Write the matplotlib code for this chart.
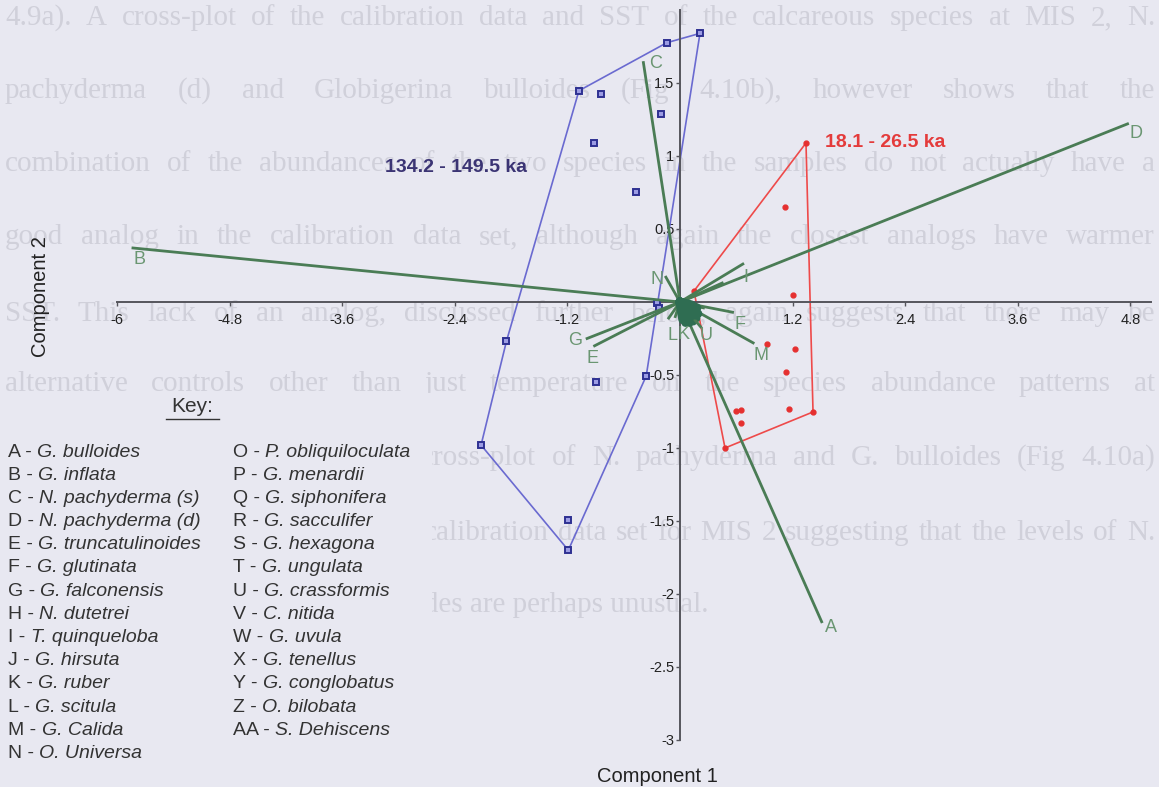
import matplotlib.pyplot as plt
from matplotlib.lines import Line2D
from matplotlib.patches import Rectangle

plt.rcParams['font.family'] = ['Liberation Sans', 'DejaVu Sans']

W, H = 1159, 787
BG = '#e8e8f1'

# Page text sitting behind the figure
page_lines = [
    '4.9a).  A cross-plot of the calibration data and SST of the calcareous species at MIS 2, N.',
    'pachyderma (d) and Globigerina bulloides (Fig 4.10b), however shows that the',
    'combination of the abundances of the two species in the samples do not actually have a',
    'good analog in the calibration data set, although again the closest analogs have warmer',
    'SST.  This lack of an analog, discussed further below, again suggests that there may be',
    'alternative controls other than just temperature on the species abundance patterns at',
    'MD95-2039 during MIS 2.  The cross-plot of N. pachyderma and G. bulloides (Fig 4.10a)',
    'also shows no good analogs in the calibration data set for MIS 2 suggesting that the levels of N.',
    'pachyderma (d) relative to G. bulloides are perhaps unusual.',
]
page_y = [18, 91, 164, 237, 314, 384, 458, 533, 605]

# Species loadings on the first two components
species_codes = ['A', 'B', 'C', 'D', 'E', 'F', 'G', 'H', 'I', 'J', 'K', 'L', 'M', 'N',
                 'O', 'P', 'Q', 'R', 'S', 'T', 'U', 'V', 'W', 'X', 'Y', 'Z', 'AA']
species_names = ['G. bulloides', 'G. inflata', 'N. pachyderma (s)', 'N. pachyderma (d)',
                 'G. truncatulinoides', 'G. glutinata', 'G. falconensis', 'N. dutetrei',
                 'T. quinqueloba', 'G. hirsuta', 'G. ruber', 'G. scitula', 'G. Calida',
                 'O. Universa', 'P. obliquiloculata', 'G. menardii', 'G. siphonifera',
                 'G. sacculifer', 'G. hexagona', 'G. ungulata', 'G. crassformis', 'C. nitida',
                 'G. uvula', 'G. tenellus', 'G. conglobatus', 'O. bilobata', 'S. Dehiscens']
load_c1 = [1.51, -5.83, -0.39, 4.77, -0.91, 0.56, -0.99, 0.45, 0.67, 0.25, -0.05, -0.12, 0.78, -0.15,
           0.18, 0.19, 0.17, 0.14, 0.10, 0.06, 0.22, 0.03, 0.12, 0.15, 0.08, 0.11, 0.16]
load_c2 = [-2.19, 0.37, 1.64, 1.22, -0.30, -0.07, -0.25, 0.13, 0.26, -0.04, -0.10, -0.11, -0.28, 0.17,
           -0.04, -0.08, -0.11, -0.13, -0.14, -0.14, -0.17, -0.12, -0.02, -0.06, -0.09, -0.10, -0.09]
labelled = ['A', 'B', 'C', 'D', 'E', 'F', 'G', 'I', 'K', 'L', 'M', 'N', 'U']
fan_codes = ['O', 'P', 'Q', 'R', 'S', 'T', 'V', 'W', 'X', 'Y', 'Z', 'AA']
# label offsets in pixels from the end of each vector
label_offset = {'A': (9, -6), 'B': (7, -12), 'C': (12, -1), 'D': (8, -10), 'E': (-2, -13),
                'F': (7, -12), 'G': (-12, -2), 'I': (3, -13), 'K': (8, -18), 'L': (4, -17),
                'M': (8, -13), 'N': (-9, -2), 'U': (6, -9)}

# Sample scores, 18.1 - 26.5 ka (hull points first)
lgm_c1 = [1.343, 0.149, 0.48, 1.418, 1.12, 1.20, 0.93, 1.23, 1.13, 0.60, 0.65, 0.65, 1.16]
lgm_c2 = [1.089, 0.075, -1.0, -0.753, 0.65, 0.05, -0.29, -0.32, -0.48, -0.75, -0.74, -0.83, -0.73]
lgm_hull = [0, 1, 2, 3, 0]

# Sample scores, 134.2 - 149.5 ka (hull points first)
mis6_c1 = [0.213, -0.14, -1.077, -1.85, -2.12, -1.19, -0.36,
           -0.845, -0.2, -0.917, -0.47, -0.25, -0.22, -0.90, -1.19]
mis6_c2 = [1.84, 1.776, 1.447, -0.27, -0.98, -1.70, -0.507,
           1.425, 1.29, 1.09, 0.75, -0.01, -0.04, -0.546, -1.49]
mis6_hull = [0, 1, 2, 3, 4, 5, 6, 0]

xticks = [-6, -4.8, -3.6, -2.4, -1.2, 1.2, 2.4, 3.6, 4.8]
yticks = [-3, -2.5, -2, -1.5, -1, -0.5, 0.5, 1, 1.5]

fig = plt.figure(figsize=(W / 100, H / 100), dpi=100)
fig.patch.set_facecolor(BG)
renderer = fig.canvas.get_renderer()

# justified page text, kept underneath everything else
for i, (line, y) in enumerate(zip(page_lines, page_y)):
    kw = dict(fontsize=21, family='Liberation Serif', color='#d0d0da', va='center', zorder=-3)
    if i == len(page_lines) - 1:
        fig.text(5 / W, 1 - y / H, line, **kw)
        continue
    words = line.split()
    arts = [fig.text(0, 1 - y / H, w, **kw) for w in words]
    widths = [a.get_window_extent(renderer).width for a in arts]
    gap = (1155 - 5 - sum(widths)) / (len(words) - 1)
    x = 5
    for a, w in zip(arts, widths):
        a.set_x(x / W)
        x += w + gap

# plain panel behind the key
fig.add_artist(Rectangle((0, 0), 432 / W, 1 - 393 / H, transform=fig.transFigure,
                         facecolor=BG, edgecolor='none', zorder=-2))

ax = fig.add_axes([117 / W, 1 - 740 / H, (1151 - 117) / W, 730 / H])
ax.set_xlim(-6, 5.02)
ax.set_ylim(-3, 2)
ax.patch.set_alpha(0)
for side in ['top', 'right']:
    ax.spines[side].set_visible(False)
ax.spines['left'].set_position(('data', 0))
ax.spines['bottom'].set_position(('data', 0))
for side in ['left', 'bottom']:
    ax.spines[side].set_color('#55555c')
    ax.spines[side].set_linewidth(1.4)
ax.set_xticks(xticks)
ax.set_xticklabels([f'{t:g}' for t in xticks])
ax.set_yticks(yticks)
ax.set_yticklabels([f'{t:g}' for t in yticks])
ax.tick_params(direction='out', length=3, width=1, color='#55555c', labelsize=10.5,
               labelcolor='#222222')
ax.tick_params(axis='x', pad=5)
ax.tick_params(axis='y', pad=1)

# convex hulls and samples
ax.plot([mis6_c1[i] for i in mis6_hull], [mis6_c2[i] for i in mis6_hull],
        color='#6a6ad0', lw=1.2, zorder=2)
ax.plot(mis6_c1, mis6_c2, 's', ms=5, mfc='#9c9ce4', mec='#2e3192', mew=1.4, zorder=3)
ax.plot([lgm_c1[i] for i in lgm_hull], [lgm_c2[i] for i in lgm_hull],
        color='#ee4a4a', lw=1.2, zorder=2)
ax.plot(lgm_c1, lgm_c2, 'o', ms=3.5, color='#e53030', zorder=3)

# species vectors
for code, c1, c2 in zip(species_codes, load_c1, load_c2):
    if code in fan_codes:
        ax.plot([0, c1], [0, c2], color='#2f6d52', lw=6.5, solid_capstyle='round', zorder=4)
    else:
        ax.plot([0, c1], [0, c2], color='#4a7c55', lw=2, zorder=4)
    if code in labelled:
        ax.annotate(code, (c1, c2), xytext=label_offset[code], textcoords='offset pixels',
                    ha='center', va='center', fontsize=13, color='#6a9672', zorder=5)

ax.text(-3.14, 0.92, '134.2 - 149.5 ka', fontsize=14, fontweight='bold',
        color='#3b3474', va='center')
ax.text(1.55, 1.09, '18.1 - 26.5 ka', fontsize=14, fontweight='bold',
        color='#e43b3b', va='center')

fig.text(40 / W, 1 - 297 / H, 'Component 2', rotation=90, fontsize=14.5,
         color='#222222', ha='center', va='center')
fig.text(657 / W, 1 - 776 / H, 'Component 1', fontsize=14.5, color='#222222',
         ha='center', va='center')

# key
fig.text(192 / W, 1 - 407 / H, 'Key:', fontsize=15, color='#333333',
         ha='center', va='center')
fig.add_artist(Line2D([166 / W, 219 / W], [1 - 419 / H] * 2, color='#333333', lw=1))
for i, (code, name) in enumerate(zip(species_codes, species_names)):
    col, row = divmod(i, 14)
    x = 8 if col == 0 else 233
    y = 452 + row * 23.2
    t = fig.text(x / W, 1 - y / H, f'{code} - ', fontsize=14, color='#333333', va='center')
    ax.annotate(name, xy=(1, 0.5), xycoords=t, fontsize=14, fontstyle='italic',
                color='#333333', va='center', ha='left', annotation_clip=False)

plt.savefig('out.png', dpi=100, facecolor=BG)
